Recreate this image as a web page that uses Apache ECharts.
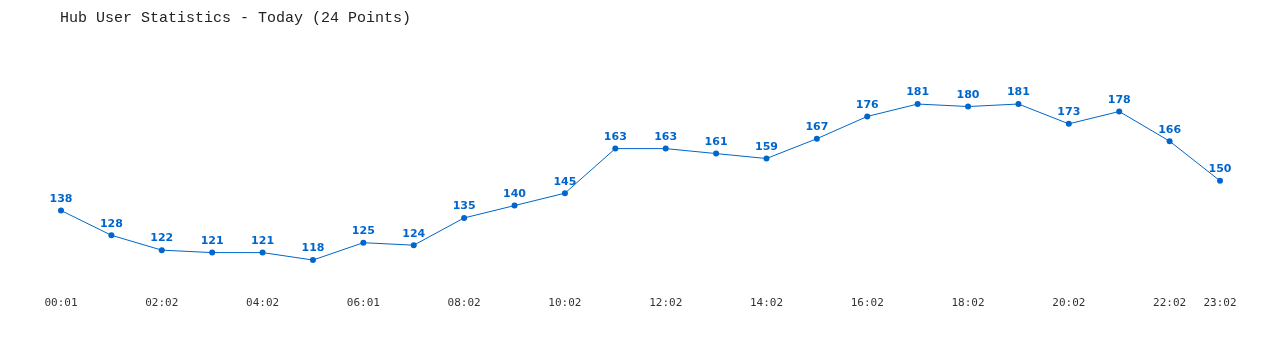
<!DOCTYPE html>
<html>
<head>
<meta charset="utf-8">
<script src="https://cdn.jsdelivr.net/npm/echarts@6/dist/echarts.min.js"></script>
<style>
html,body{margin:0;padding:0;background:#fff;}
#chart{width:1280px;height:350px;}
</style>
</head>
<body>
<div id="chart"></div>
<script>
const titleText = "Hub User Statistics - Today (24 Points)";
const categories = ["00:01","01:02","02:02","03:02","04:02","05:01","06:01","07:02","08:02","09:02","10:02","11:02",
  "12:02","13:02","14:02","15:02","16:02","17:02","18:02","19:02","20:02","21:02","22:02","23:02"];
const users = [138,128,122,121,121,118,125,124,135,140,145,163,163,161,159,167,176,181,180,181,173,178,166,150];

const chart = echarts.init(document.getElementById('chart'));
chart.setOption({
  backgroundColor: '#ffffff',
  animation: false,
  title: {
    text: titleText,
    left: 55, top: 6,
    textStyle: { fontFamily: 'Liberation Mono, DejaVu Sans Mono, monospace', fontSize: 15, fontWeight: 'normal', color: '#222' }
  },
  grid: { left: 61, right: 60, top: 57, bottom: 55.3 },
  xAxis: {
    type: 'category',
    data: categories,
    boundaryGap: false,
    axisLine: { show: false },
    axisTick: { show: false },
    axisLabel: {
      interval: function (i) { return i % 2 === 0 || i === categories.length - 1; },
      fontFamily: 'DejaVu Sans Mono, monospace',
      fontSize: 11,
      color: '#333',
      margin: 3
    }
  },
  yAxis: {
    type: 'value', min: 104, max: 200,
    show: false,
    splitLine: { show: false }
  },
  series: [{
    type: 'line',
    data: users,
    symbol: 'circle',
    symbolSize: 6,
    lineStyle: { color: '#0066cc', width: 1 },
    itemStyle: { color: '#0066cc' },
    label: {
      show: true, position: 'top', distance: 3,
      color: '#0066cc',
      fontFamily: 'DejaVu Sans, sans-serif',
      fontWeight: 'bold',
      fontSize: 11
    }
  }]
});
</script>
</body>
</html>
